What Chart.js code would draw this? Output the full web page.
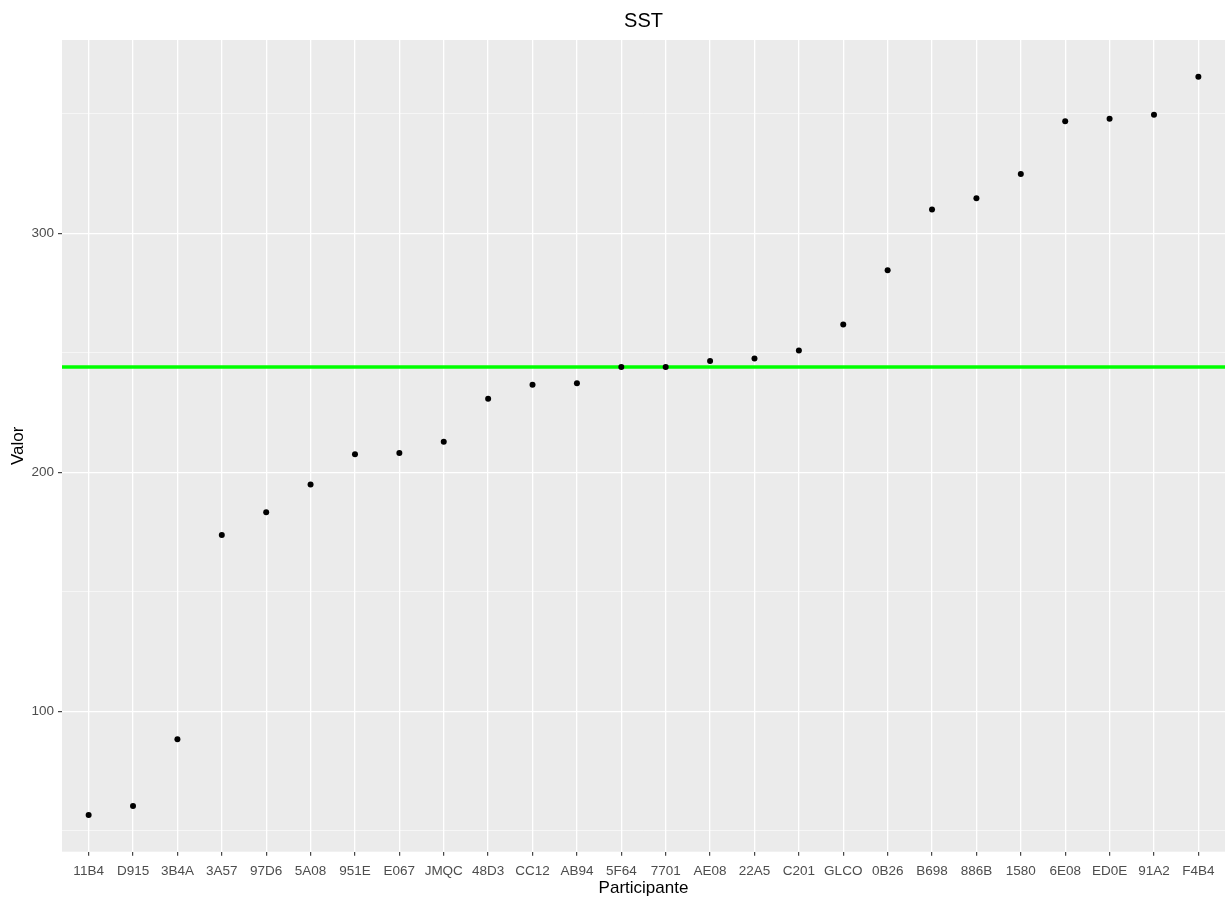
<!DOCTYPE html>
<html>
<head>
<meta charset="utf-8">
<script src="https://cdn.jsdelivr.net/npm/chart.js@4"></script>
<style>
  body { margin: 0; background: #ffffff; }
</style>
</head>
<body>
<canvas id="grafico" width="1231" height="900"></canvas>
<script>
const participantes = ["11B4", "D915", "3B4A", "3A57", "97D6", "5A08", "951E", "E067", "JMQC", "48D3", "CC12", "AB94", "5F64",
  "7701", "AE08", "22A5", "C201", "GLCO", "0B26", "B698", "886B", "1580", "6E08", "ED0E", "91A2", "F4B4"];
const valores = [56.7, 60.4, 88.3, 173.8, 183.3, 194.9, 207.5, 208.1, 212.8, 230.8, 236.6, 237.2, 244.0,
  244.0, 246.5, 247.6, 250.9, 261.8, 284.5, 309.9, 314.6, 324.8, 346.8, 347.9, 349.5, 365.4];
const mediana = 244.0;
const limitesX = [-0.6, 25.6];
const limitesY = [41.3, 380.8];
const pasoY = 50;
const etiquetasY = [100, 200, 300];

const fuente = "'Liberation Sans', Arial, sans-serif";

// fondo gris del panel y titulo centrado sobre el panel
const panel = {
  id: "panel",
  beforeDraw(chart) {
    const { ctx, chartArea } = chart;
    ctx.save();
    ctx.fillStyle = "#EBEBEB";
    ctx.fillRect(chartArea.left, chartArea.top, chartArea.right - chartArea.left, chartArea.bottom - chartArea.top);
    ctx.restore();
  },
  afterDraw(chart) {
    const { ctx, chartArea } = chart;
    ctx.save();
    ctx.font = "20px " + fuente;
    ctx.fillStyle = "#000000";
    ctx.textAlign = "center";
    ctx.textBaseline = "alphabetic";
    ctx.fillText("SST", (chartArea.left + chartArea.right) / 2, 27.3);
    ctx.restore();
  },
};

const esMayor = (v) => etiquetasY.includes(Math.round(v));

new Chart(document.getElementById("grafico"), {
  type: "scatter",
  data: {
    datasets: [
      {
        label: "Valor",
        data: valores.map((v, i) => ({ x: i, y: v })),
        backgroundColor: "#000000",
        pointRadius: 3,
        pointBorderWidth: 0,
      },
      {
        type: "line",
        label: "Mediana",
        data: limitesX.map((x) => ({ x: x, y: mediana })),
        borderColor: "#00FF00",
        borderWidth: 3.5,
        pointRadius: 0,
        fill: false,
      },
    ],
  },
  plugins: [panel],
  options: {
    responsive: false,
    animation: false,
    layout: { padding: { top: 40, right: 6, left: 0, bottom: 0 } },
    plugins: {
      legend: { display: false },
      tooltip: { enabled: false },
      title: { display: false },
    },
    scales: {
      x: {
        type: "linear",
        min: limitesX[0],
        max: limitesX[1],
        afterFit(scale) { scale.height = 48.3; },
        border: { display: false },
        grid: {
          color: "#FFFFFF",
          lineWidth: 1.3,
          tickLength: 4,
          tickColor: "#333333",
          tickWidth: 1.1,
        },
        ticks: {
          stepSize: 1,
          includeBounds: false,
          autoSkip: false,
          maxRotation: 0,
          padding: 7,
          color: "#4D4D4D",
          font: { family: fuente, size: 13.5 },
          callback: (v) => participantes[Math.round(v)],
        },
        title: {
          display: true,
          text: "Participante",
          color: "#000000",
          font: { family: fuente, size: 17 },
          padding: { top: 0, bottom: 1 },
        },
      },
      y: {
        min: limitesY[0],
        max: limitesY[1],
        afterFit(scale) { scale.width = 62; },
        border: { display: false },
        grid: {
          color: (c) => (esMayor(c.tick.value) ? "#FFFFFF" : "rgba(255,255,255,0.8)"),
          lineWidth: (c) => (esMayor(c.tick.value) ? 1.3 : 0.7),
          tickLength: 4,
          tickColor: (c) => (esMayor(c.tick.value) ? "#333333" : "rgba(0,0,0,0)"),
          tickWidth: 1.1,
        },
        ticks: {
          stepSize: pasoY,
          includeBounds: false,
          autoSkip: false,
          padding: 4,
          color: "#4D4D4D",
          font: { family: fuente, size: 13.5 },
          callback: (v) => (esMayor(v) ? String(Math.round(v)) : ""),
        },
        title: {
          display: true,
          text: "Valor",
          color: "#000000",
          font: { family: fuente, size: 17 },
          padding: { top: 8, bottom: 0 },
        },
      },
    },
  },
});
</script>
</body>
</html>
